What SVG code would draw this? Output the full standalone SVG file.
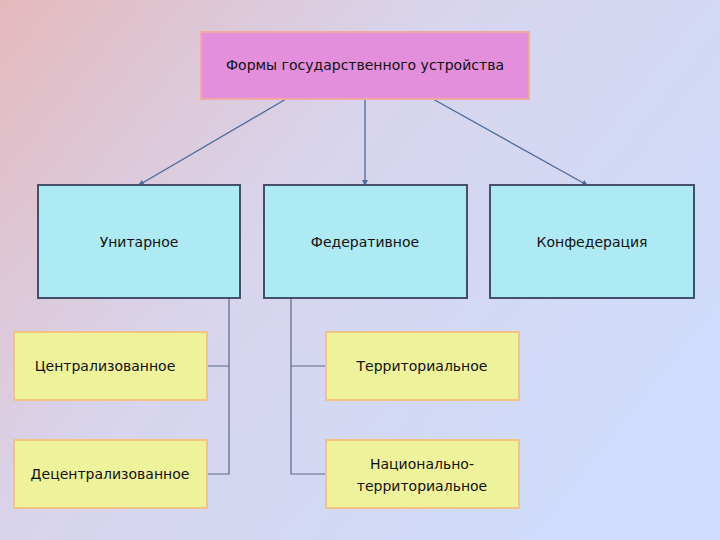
<svg xmlns="http://www.w3.org/2000/svg" width="720" height="540" viewBox="0 0 720 540">
<defs>
<linearGradient id="bg" x1="0" y1="0" x2="1" y2="0.6">
<stop offset="0" stop-color="#e4b9bd"/>
<stop offset="0.45" stop-color="#d8d4ec"/>
<stop offset="1" stop-color="#cfdcfb"/>
</linearGradient>
<marker id="a" markerWidth="6" markerHeight="6" refX="5" refY="3" orient="auto" markerUnits="userSpaceOnUse"><path d="M0,0 L6,3 L0,6z" fill="#4a6a9a"/></marker>
<style>
.t{font-family:"DejaVu Sans","Liberation Sans",sans-serif;font-size:14px;fill:#111;text-anchor:middle}
.b{fill:#aeeaf4;stroke:#44506a;stroke-width:2}
.y{fill:#eef29a;stroke:#f3c383;stroke-width:2}
.c{stroke:#4a6a9a;stroke-width:1.3;fill:none}
.g{stroke:#5b6688;stroke-width:1.2;fill:none}
</style>
</defs>
<rect width="720" height="540" fill="url(#bg)"/>
<g id="connectors">
<line class="c" x1="286" y1="99" x2="139" y2="185" marker-end="url(#a)"/>
<line class="c" x1="365" y1="99" x2="365" y2="185" marker-end="url(#a)"/>
<line class="c" x1="433" y1="99" x2="587" y2="185" marker-end="url(#a)"/>
<path class="g" d="M229,298 V474 H207 M229,366 H207"/>
<path class="g" d="M291,298 V474 H326 M291,366 H326"/>
</g>
<g id="root"><rect x="201" y="32" width="328" height="67" fill="#e38fdc" stroke="#f1a9a3" stroke-width="2"/><text class="t" x="365" y="70" font-size="13">Формы государственного устройства</text></g>
<g id="unitary"><rect class="b" x="38" y="185" width="202" height="113"/><text class="t" x="139" y="247">Унитарное</text></g>
<g id="federal"><rect class="b" x="264" y="185" width="203" height="113"/><text class="t" x="365" y="247">Федеративное</text></g>
<g id="confed"><rect class="b" x="490" y="185" width="204" height="113"/><text class="t" x="592" y="247">Конфедерация</text></g>
<g id="central"><rect class="y" x="14" y="332" width="193" height="68"/><text class="t" x="105" y="371">Централизованное</text></g>
<g id="decentral"><rect class="y" x="14" y="440" width="193" height="68"/><text class="t" x="110" y="479">Децентрализованное</text></g>
<g id="territorial"><rect class="y" x="326" y="332" width="193" height="68"/><text class="t" x="422" y="371">Территориальное</text></g>
<g id="national"><rect class="y" x="326" y="440" width="193" height="68"/><text class="t" x="422" y="469">Национально-</text><text class="t" x="422" y="491">территориальное</text></g>
</svg>
